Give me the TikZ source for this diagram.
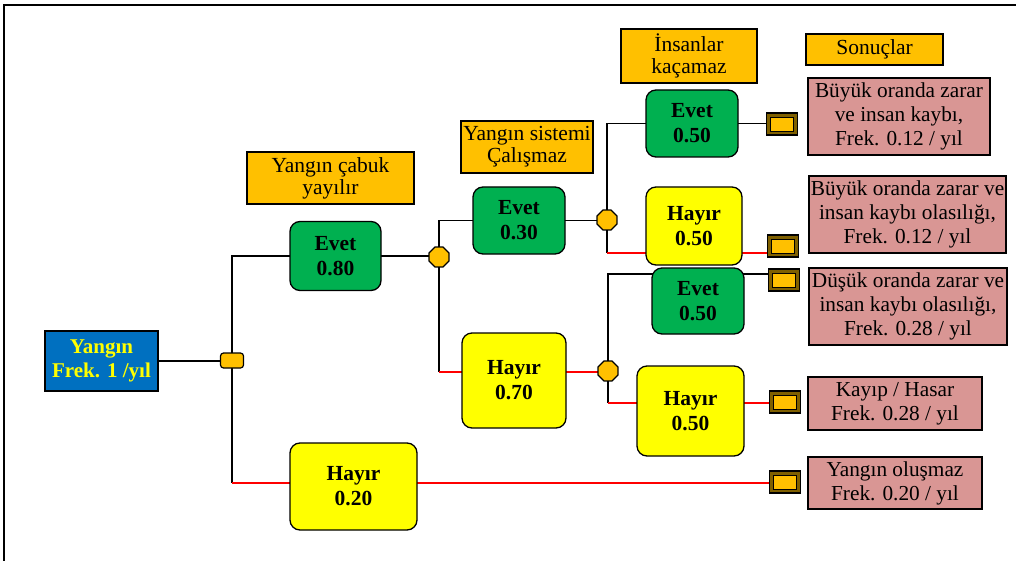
\documentclass[tikz,border=0pt]{standalone}
\usepackage{fontspec}
\setmainfont{Liberation Serif}
\usetikzlibrary{shapes.geometric,backgrounds,calc}
\definecolor{cblue}{HTML}{0070C0}
\definecolor{cgreen}{HTML}{00B050}
\definecolor{cyellow}{HTML}{FFFF00}
\definecolor{corange}{HTML}{FFC000}
\definecolor{cpink}{HTML}{D99694}
\definecolor{cbrown}{HTML}{7F6000}
\definecolor{cred}{HTML}{FF0000}
\begin{document}
\begin{tikzpicture}[x=1pt,y=-1pt,
 every node/.style={inner sep=0pt, outer sep=0pt},
 dec/.style={draw=black, line width=1.3pt, rounded corners=10pt, align=center, font=\fontsize{21.5}{25}\selectfont\bfseries},
 yesbox/.style={dec, fill=cgreen},
 nobox/.style={dec, fill=cyellow},
 hdr/.style={draw=black, line width=1.5pt, fill=corange, align=center, font=\fontsize{21.5}{22}\selectfont},
 outc/.style={draw=black, line width=1.5pt, fill=cpink, align=center, font=\fontsize{21.3}{24}\selectfont},
 term/.style={draw=black, line width=1.2pt, fill=cbrown, minimum width=31pt, minimum height=22pt,
   path picture={\draw[black,line width=0.7pt,fill=corange] ([shift={(4pt,-4pt)}]path picture bounding box.north west) rectangle ([shift={(-4pt,4pt)}]path picture bounding box.south east);}},
 oct/.style={regular polygon, regular polygon sides=8, draw=black, line width=1.2pt, fill=corange, minimum size=21.5pt},
 conn/.style={line width=1.5pt, black},
 rconn/.style={line width=1.5pt, cred}]
\useasboundingbox (0,0) rectangle (1016,561);
\draw[line width=2pt] (4,561) -- (4,5) -- (1016,5);

% start
\node[draw=black, line width=1.5pt, fill=cblue, minimum width=113pt, minimum height=60pt, align=center,
  font=\fontsize{21}{24}\selectfont\bfseries, text=cyellow] (start) at (101.5,361) {Yangın\\Frek. 1 /yıl};
\node[draw=black, line width=1.2pt, fill=corange, rounded corners=3pt, minimum width=23pt, minimum height=15pt] (j1) at (232,360.5) {};

% headers
\node[hdr, minimum width=167pt, minimum height=52pt] (hdr1) at (330.5,178) {Yangın çabuk\\yayılır};
\node[hdr, minimum width=132pt, minimum height=52pt] (hdr2) at (527,147) {Yangın sistemi\\Çalışmaz};
\node[hdr, minimum width=136pt, minimum height=54pt] (hdr3) at (689,56) {İnsanlar\\kaçamaz};
\node[hdr, minimum width=137pt, minimum height=31pt] (hdr4) at (874.5,49.5) {Sonuçlar};

% level 1
\node[yesbox, minimum width=91pt, minimum height=69pt] (e80) at (335.5,256) {Evet\\0.80};
\node[nobox, minimum width=127pt, minimum height=87pt] (h20) at (353.5,486.5) {Hayır\\0.20};
\node[oct] (j2) at (439,257) {};

% level 2
\node[yesbox, minimum width=92pt, minimum height=67pt] (e30) at (519,220.5) {Evet\\0.30};
\node[nobox, minimum width=104pt, minimum height=95pt] (h70) at (514,380.5) {Hayır\\0.70};
\node[oct] (j3) at (607,220) {};
\node[oct] (j4) at (608,371) {};

% level 3
\node[yesbox, minimum width=92pt, minimum height=67pt] (e50a) at (692,123.5) {Evet\\0.50};
\node[nobox, minimum width=96pt, minimum height=78pt] (h50a) at (694,226) {Hayır\\0.50};
\node[yesbox, minimum width=92pt, minimum height=66pt] (e50b) at (698,301) {Evet\\0.50};
\node[nobox, minimum width=107pt, minimum height=90pt] (h50b) at (690.5,411) {Hayır\\0.50};

% terminals
\node[term] (t1) at (782,124) {};
\node[term] (t2) at (783,246) {};
\node[term] (t3) at (784,280) {};
\node[term] (t4) at (785,402) {};
\node[term] (t5) at (785,482) {};

% outcomes
\node[outc, minimum width=182pt, minimum height=77pt] (o1) at (899,116.5) {Büyük oranda zarar\\ve insan kaybı,\\Frek. 0.12 / yıl};
\node[outc, minimum width=197pt, minimum height=77pt] (o2) at (907.5,214.5) {Büyük oranda zarar ve\\insan kaybı olasılığı,\\Frek. 0.12 / yıl};
\node[outc, minimum width=198pt, minimum height=77pt] (o3) at (908,306.5) {Düşük oranda zarar ve\\insan kaybı olasılığı,\\Frek. 0.28 / yıl};
\node[outc, minimum width=174pt, minimum height=53pt] (o4) at (895,403.5) {Kayıp / Hasar\\Frek. 0.28 / yıl};
\node[outc, minimum width=174pt, minimum height=52pt] (o5) at (895,483) {Yangın oluşmaz\\Frek. 0.20 / yıl};

\coordinate (c1) at (232,483);
\coordinate (c2) at (439,372);
\coordinate (c3) at (607,253);
\coordinate (c4) at (608,274);
\coordinate (c5) at (608,403);

\begin{scope}[on background layer]
\draw[conn] (start.east) -- (start.east -| j1.west);
\draw[conn] (j1.north) |- (e80.west);
\draw[conn] (j1.south) -- (c1);
\draw[rconn] (c1) -- (c1 -| t5.west);
\draw[conn] (e80.east) -- (e80.east -| j2.west);
\draw[conn] (j2.north) |- (e30.west);
\draw[conn] (j2.south) -- (c2);
\draw[rconn] (c2) -- (c2 -| j4.west);
\draw[conn] (e30.east) -- (e30.east -| j3.west);
\draw[conn] (j3.north) |- (e50a.west);
\draw[conn] (e50a.east) -- (e50a.east -| t1.west);
\draw[conn] (j3.south) -- (c3);
\draw[rconn] (c3) -- (c3 -| t2.west);
\draw[conn] (j4.north) -- (c4) -- (c4 -| t3.west);
\draw[conn] (j4.south) -- (c5);
\draw[rconn] (c5) -- (c5 -| t4.west);
\end{scope}
\end{tikzpicture}
\end{document}
